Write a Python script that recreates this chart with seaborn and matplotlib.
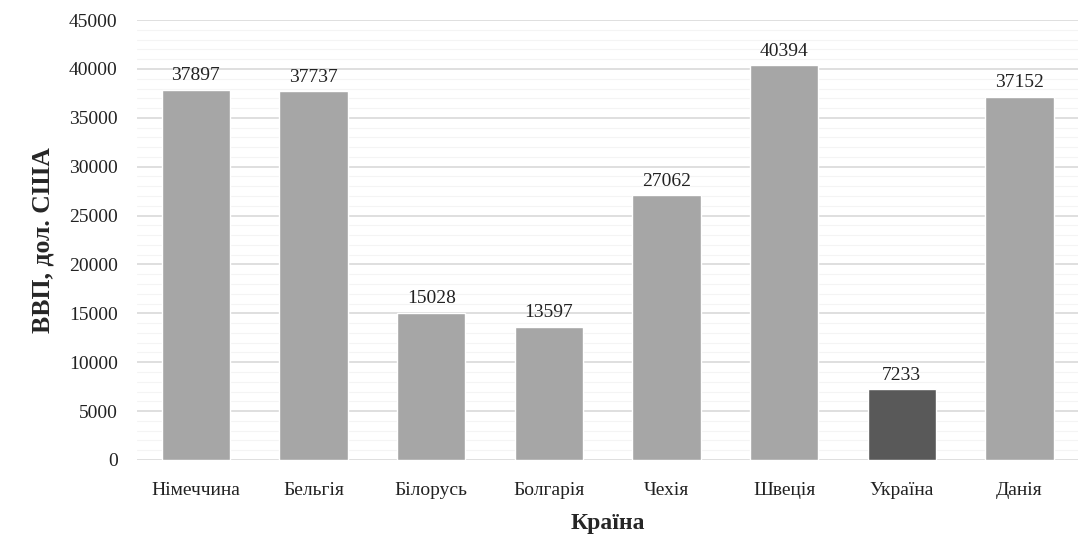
import matplotlib
matplotlib.use("Agg")
import matplotlib.pyplot as plt
import seaborn as sns
import pandas as pd
from matplotlib.ticker import MultipleLocator

countries = ["Німеччина", "Бельгія", "Білорусь", "Болгарія", "Чехія", "Швеція", "Україна", "Данія"]
gdp = [37897, 37737, 15028, 13597, 27062, 40394, 7233, 37152]
highlight = "Україна"

df = pd.DataFrame({"country": countries, "gdp": gdp})
palette = {c: ("#595959" if c == highlight else "#A6A6A6") for c in countries}

sns.set_theme(style="white")
plt.rcParams["font.family"] = ["Liberation Serif", "DejaVu Serif"]

fig = plt.figure(figsize=(10.88, 5.43), dpi=100)
ax = fig.add_axes([0.126, 0.153, 0.865, 0.81])

sns.barplot(data=df, x="country", y="gdp", hue="country", palette=palette,
            legend=False, width=0.58, ax=ax, saturation=1)

for cont in ax.containers:
    ax.bar_label(cont, fmt="%d", padding=4, fontsize=14, color="#222222")

ax.set_ylim(0, 45000)
ax.yaxis.set_major_locator(MultipleLocator(5000))
ax.yaxis.set_minor_locator(MultipleLocator(1000))
ax.grid(axis="y", which="major", color="#D9D9D9", linewidth=1.2)
ax.grid(axis="y", which="minor", color="#F4F4F4", linewidth=0.8)
ax.set_axisbelow(True)
for s in ax.spines.values():
    s.set_visible(False)
ax.tick_params(axis="both", which="both", length=0, labelsize=14, colors="#222222")
ax.tick_params(axis="y", pad=14)
ax.tick_params(axis="x", pad=16)

ax.set_xlabel("Країна", fontsize=17, fontweight="bold", labelpad=10)
ax.set_ylabel("ВВП, дол. США", fontsize=18.5, fontweight="bold", labelpad=10)

fig.savefig("out.png", dpi=100)
